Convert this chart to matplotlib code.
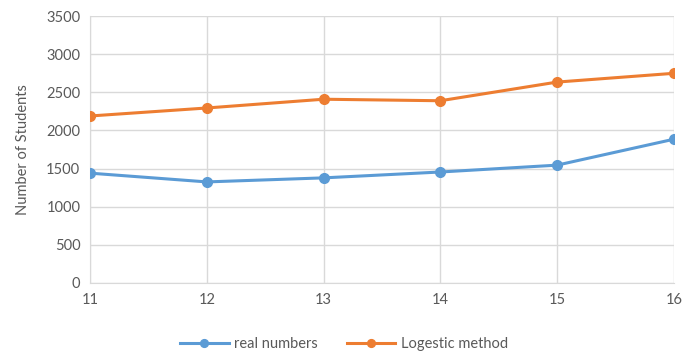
import matplotlib.pyplot as plt

years = [11, 12, 13, 14, 15, 16]
real_numbers = [1440, 1325, 1378, 1455, 1545, 1885]
logestic_method = [2190, 2295, 2410, 2390, 2635, 2750]

plt.rcParams['font.family'] = ['Lato', 'DejaVu Sans']

fig = plt.figure(figsize=(6.82, 3.59), dpi=100)
ax = fig.add_axes([0.132, 0.212, 0.856, 0.743])

ax.plot(years, real_numbers, color='#5B9BD5', lw=2.2, marker='o', ms=7,
        label='real numbers', zorder=3)
ax.plot(years, logestic_method, color='#ED7D31', lw=2.2, marker='o', ms=7,
        label='Logestic method', zorder=3)

ax.set_xlim(11, 16)
ax.set_ylim(0, 3500)
ax.set_xticks(years)
ax.set_yticks(range(0, 3501, 500))
ax.grid(True, color='#d9d9d9', lw=1)
ax.set_axisbelow(True)
for side in ['top', 'right']:
    ax.spines[side].set_visible(False)
for side in ['left', 'bottom']:
    ax.spines[side].set_color('#d9d9d9')
ax.tick_params(length=0, labelsize=10.5, colors='#595959', pad=7)
ax.set_ylabel('Number of Students', fontsize=10.5, color='#595959', labelpad=12)

fig.legend(*ax.get_legend_handles_labels(), loc='upper center',
           bbox_to_anchor=(0.505, 0.097), ncol=2, frameon=False,
           fontsize=10.5, labelcolor='#595959', handlelength=3.3, columnspacing=2.0,
           handletextpad=0.4, markerscale=0.8)

fig.savefig('out.png', dpi=100)
